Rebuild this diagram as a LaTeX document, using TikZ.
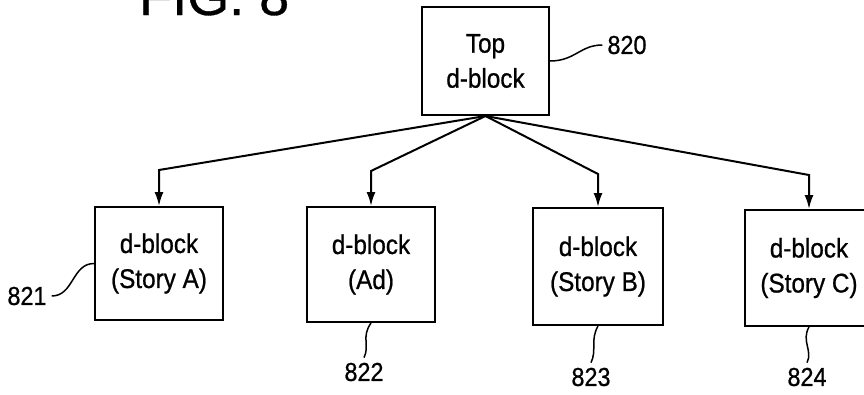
\documentclass[tikz,border=0pt]{standalone}
\usepackage{fontspec}
\setmainfont{Liberation Sans}[FakeBold=0.6]
\newfontfamily\boxfont{Liberation Sans}[FakeStretch=0.9,FakeBold=0.8]
\usetikzlibrary{arrows.meta}
\begin{document}
\begin{tikzpicture}[x=1pt,y=-1pt,
  blk/.style={draw, line width=2pt, align=center, inner sep=0pt,
    font=\boxfont\fontsize{27}{35}\selectfont},
  num/.style={inner sep=5pt, font=\boxfont\fontsize{26}{30}\selectfont},
  conn/.style={line width=2pt, -{Latex[length=14pt,width=9pt]}},
  lead/.style={line width=1.5pt}]
\useasboundingbox (0,0) rectangle (864,394);
\clip (0,0) rectangle (864,394);
\node[anchor=base west, inner sep=0pt, font=\fontsize{54}{60}\selectfont] (fig) at (139,15) {FIG. 8};
% blocks
\node[blk, minimum width=127pt, minimum height=108pt] (top) at (485.5,61) {Top\\d-block};
\node[blk, minimum width=128pt, minimum height=113pt] (b1) at (159,263.5) {d-block\\(Story A)};
\node[blk, minimum width=128pt, minimum height=115pt] (b2) at (371,264.5) {d-block\\(Ad)};
\node[blk, minimum width=130pt, minimum height=117pt] (b3) at (598,266.5) {d-block\\(Story B)};
\node[blk, minimum width=128pt, minimum height=116pt] (b4) at (809,268) {d-block\\(Story C)};
% connectors
\draw[conn] (top.south) -- ([yshift=36pt]b1.north) -- (b1.north);
\draw[conn] (top.south) -- ([yshift=35pt]b2.north) -- (b2.north);
\draw[conn] (top.south) -- ([yshift=33pt]b3.north) -- (b3.north);
\draw[conn] (top.south) -- ([yshift=34pt]b4.north) -- (b4.north);
% labels
\node[num] (l820) at (627,45) {820};
\node[num] (l821) at (27,296) {821};
\node[num] (l822) at (364,372) {822};
\node[num] (l823) at (591,377) {823};
\node[num] (l824) at (807,377) {824};
% leaders
\draw[lead] (top.east) .. controls +(25,0) and +(-22,0) .. (l820.west);
\draw[lead] (b1.west) .. controls +(-22,0) and +(22,0) .. (l821.east);
\draw[lead] (b2.south) .. controls +(-10,14) and +(6,-12) .. (l822.north);
\draw[lead] (b3.south) .. controls +(-8,14) and +(6,-12) .. (l823.north);
\draw[lead] (b4.south) .. controls +(-8,14) and +(6,-12) .. (l824.north);
\end{tikzpicture}
\end{document}
